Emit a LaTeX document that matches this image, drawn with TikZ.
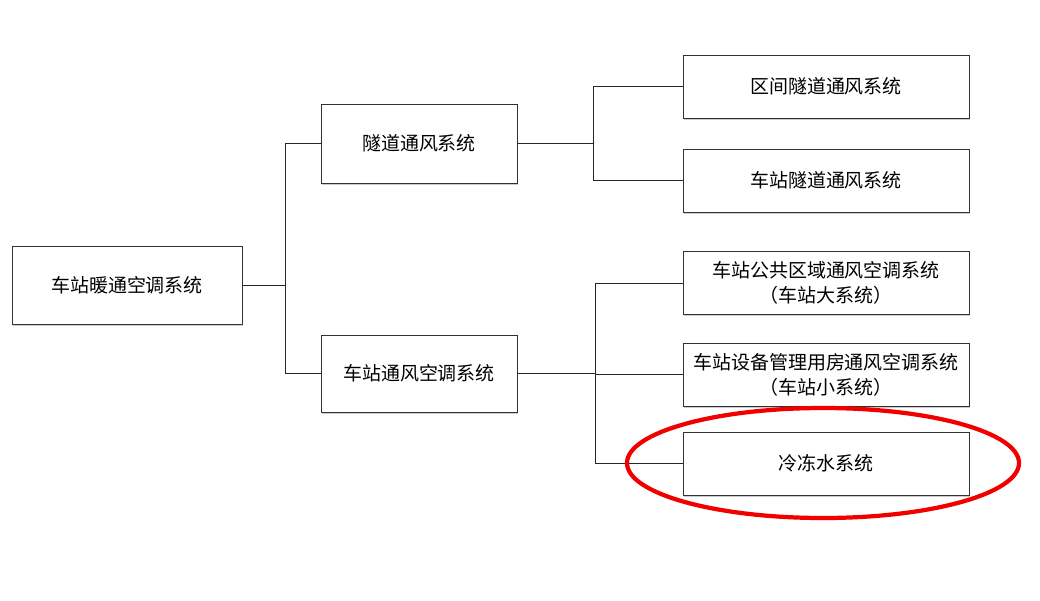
\documentclass[tikz,border=0pt]{standalone}
\usepackage{fontspec}
\setmainfont{Noto Sans CJK SC}
\usetikzlibrary{shadows}
\tikzset{
  sysbox/.style={draw=black!80, fill=white, rectangle, align=center, inner sep=0pt,
    font=\fontsize{13.5}{17.7}\selectfont,
    drop shadow={shadow xshift=0.8pt, shadow yshift=-1.2pt, fill=black!40, opacity=0.5}},
  link/.style={draw=black!85, line width=0.7pt}
}
\begin{document}
\begin{tikzpicture}[x=0.025cm,y=-0.025cm]
\useasboundingbox (0,0) rectangle (1040,600);
\node[sysbox, minimum width=5.75cm, minimum height=1.95cm] (root) at (127,285) {车站暖通空调系统};
\node[sysbox, minimum width=4.9cm, minimum height=1.975cm] (tunnel) at (419,143.5) {隧道通风系统};
\node[sysbox, minimum width=4.9cm, minimum height=1.925cm] (stationac) at (419,373.5) {车站通风空调系统};
\node[sysbox, minimum width=7.15cm, minimum height=1.575cm] (section) at (826,86.5) {区间隧道通风系统};
\node[sysbox, minimum width=7.15cm, minimum height=1.575cm] (stunnel) at (826,180.5) {车站隧道通风系统};
\node[sysbox, minimum width=7.15cm, minimum height=1.575cm] (public) at (826,283) {车站公共区域通风空调系统\\（车站大系统）};
\node[sysbox, minimum width=7.15cm, minimum height=1.575cm] (equip) at (826,374.5) {车站设备管理用房通风空调系统\\（车站小系统）};
\node[sysbox, minimum width=7.15cm, minimum height=1.575cm] (chilled) at (826,463.5) {冷冻水系统};
% junctions
\coordinate (j1) at (285,285);
\coordinate (j2) at (593,143.5);
\coordinate (j3) at (595,373.5);
\draw[link] (root.east) -- (j1);
\draw[link] (j1) |- (tunnel.west);
\draw[link] (j1) |- (stationac.west);
\draw[link] (tunnel.east) -- (j2);
\draw[link] (j2) |- (section.west);
\draw[link] (j2) |- (stunnel.west);
\draw[link] (stationac.east) -- (j3);
\draw[link] (j3) |- (public.west);
\draw[link] (j3) |- (equip.west);
\draw[link] (j3) |- (chilled.west);
% highlight
\draw[red!95!black, line width=3pt] (823,463) ellipse [x radius=196, y radius=55];
\end{tikzpicture}
\end{document}
